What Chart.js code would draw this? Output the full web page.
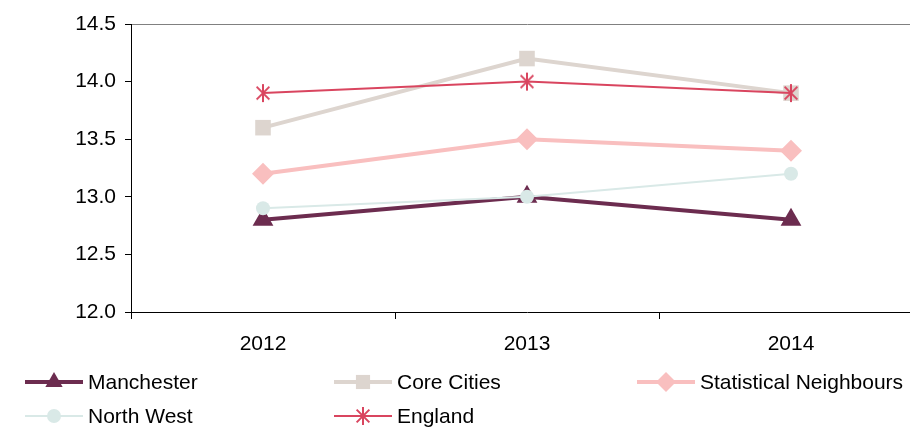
<!DOCTYPE html>
<html>
<head>
<meta charset="utf-8">
<script src="https://cdn.jsdelivr.net/npm/chart.js@4/dist/chart.umd.min.js"></script>
<style>
  html, body { margin: 0; padding: 0; overflow: hidden; background: #fff; }
</style>
</head>
<body>
<canvas id="chart1" width="935" height="429"></canvas>
<script>
const years = ['2012', '2013', '2014'];
const manchester = [12.8, 13.0, 12.8];
const coreCities = [13.6, 14.2, 13.9];
const statNeighbours = [13.2, 13.5, 13.4];
const northWest = [12.9, 13.0, 13.2];
const england = [13.9, 14.0, 13.9];

const FONT = "'Liberation Sans', Arial, sans-serif";

// asterisk marker like the Excel "star"
const makeStar = (color, r) => {
  const c = document.createElement('canvas');
  c.width = c.height = r * 2 + 4;
  const g = c.getContext('2d');
  const m = r + 2;
  g.strokeStyle = color;
  g.lineWidth = 2;
  g.beginPath();
  g.moveTo(m, m - r); g.lineTo(m, m + r);
  const d = r * Math.SQRT1_2;
  g.moveTo(m - d, m - d); g.lineTo(m + d, m + d);
  g.moveTo(m + d, m - d); g.lineTo(m - d, m + d);
  g.stroke();
  return c;
};

const series = (label, data, color, width, style, radius, order) => ({
  label: label,
  data: data,
  borderColor: color,
  backgroundColor: color,
  borderWidth: width,
  pointStyle: style,
  pointRadius: radius,
  pointHoverRadius: radius,
  pointBorderWidth: 0,
  pointBackgroundColor: color,
  tension: 0,
  order: order
});

const graphData = {
  labels: years,
  datasets: [
    series('Manchester', manchester, '#6c2c4f', 4, 'triangle', 12, 5),
    series('Core Cities', coreCities, '#ddd5cf', 4, 'rect', 11, 4),
    series('Statistical Neighbours', statNeighbours, '#f9bfbf', 4, 'rectRot', 11, 3),
    series('North West', northWest, '#d9e9e7', 2, 'circle', 7, 2),
    series('England', england, '#d9455f', 2, makeStar('#d9455f', 9), 9, 1)
  ]
};

// legend drawn under the axis, two rows of three
const legendBelow = {
  id: 'legendBelow',
  afterDraw(chart) {
    const ctx = chart.ctx;
    const cols = [25, 334, 637];
    const rows = [382, 416];
    chart.data.datasets.forEach((ds, i) => {
      const x = cols[i % 3];
      const y = rows[Math.floor(i / 3)];
      ctx.save();
      ctx.strokeStyle = ds.borderColor;
      ctx.fillStyle = ds.borderColor;
      ctx.lineWidth = ds.borderWidth;
      ctx.beginPath();
      ctx.moveTo(x, y);
      ctx.lineTo(x + 58, y);
      ctx.stroke();
      Chart.helpers.drawPoint(ctx, {
        pointStyle: ds.pointStyle,
        radius: Math.min(ds.pointRadius, 10),
        rotation: 0,
        borderWidth: 0
      }, x + 29, y);
      ctx.fillStyle = '#000';
      ctx.font = '21px ' + FONT;
      ctx.textBaseline = 'middle';
      ctx.textAlign = 'left';
      ctx.fillText(ds.label, x + 63, y + 1);
      ctx.restore();
    });
  }
};

const options = {
  responsive: false,
  animation: false,
  layout: { padding: { left: 0, right: 5, top: 24, bottom: 67 } },
  plugins: { legend: { display: false }, tooltip: { enabled: false } },
  scales: {
    x: {
      offset: true,
      afterFit: s => { s.height = 50; },
      grid: { offset: true, drawOnChartArea: false, tickLength: 7, tickColor: '#000', lineWidth: 1 },
      border: { color: '#000', width: 1 },
      ticks: { color: '#000', padding: 13, font: { family: FONT, size: 21 } }
    },
    y: {
      min: 12,
      max: 14.5,
      afterFit: s => { s.width = 131; },
      grid: {
        color: c => (c.tick && c.tick.value === 14.5) ? '#808080' : 'rgba(0,0,0,0)',
        tickColor: '#000',
        tickLength: 6,
        lineWidth: 1
      },
      border: { color: '#000', width: 1 },
      ticks: {
        stepSize: 0.5,
        color: '#000',
        padding: 9,
        font: { family: FONT, size: 21 },
        callback: v => v.toFixed(1)
      }
    }
  }
};

const ctx1 = document.getElementById('chart1');
const ageChart = new Chart(ctx1, {
  type: 'line',
  data: graphData,
  options: options,
  plugins: [legendBelow]
});
</script>
</body>
</html>
